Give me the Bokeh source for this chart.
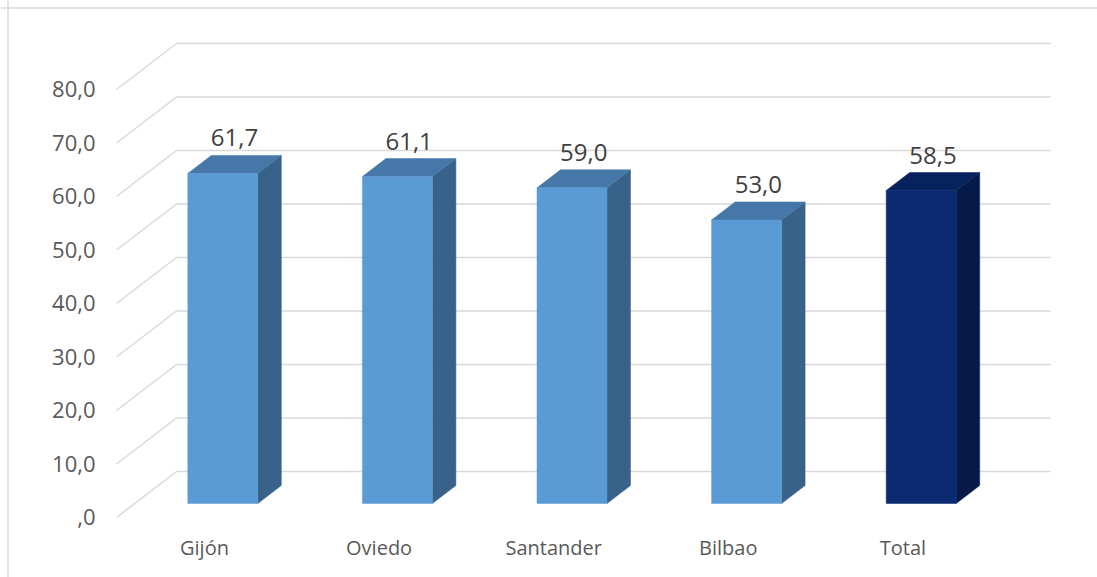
from bokeh.plotting import figure
from bokeh.models import Range1d, Span, ColumnDataSource
from bokeh.core.properties import value
from bokeh.embed import file_html
from bokeh.resources import INLINE

# ---- data -------------------------------------------------------------
categories = ["Gijón", "Oviedo", "Santander", "Bilbao", "Total"]
values = [61.7, 61.1, 59.0, 53.0, 58.5]
y_ticks = [0, 10, 20, 30, 40, 50, 60, 70, 80]
y_tick_labels = [",0", "10,0", "20,0", "30,0", "40,0", "50,0", "60,0", "70,0", "80,0"]
highlight = "Total"


def fmt(v):
    """Spanish decimal format used on the value labels."""
    return f"{v:.1f}".replace(".", ",")


# ---- layout (pixel geometry of the pseudo-3D box) ----------------------
W, H = 1097, 577
X0_PX, STEP_PX = 204.0, 174.6      # first category centre, spacing between categories
Y0_PX, UNIT_PX = 517.0, 5.35       # floor front edge, pixels per value unit


def dx(px):
    return px / STEP_PX


def dy(px):
    return px / UNIT_PX


WALL_LEFT = dx(116 - X0_PX)
WALL_RIGHT = dx(1050 - X0_PX)
WALL_DX, WALL_DY = dx(60), dy(46)          # depth of the floor / side wall
BAR_DX0, BAR_DY0 = dx(18.3), dy(14)        # bars stand a bit behind the floor edge
BAR_W = dx(70)
BAR_DX, BAR_DY = dx(23.5), dy(18)          # depth of each bar

GRID = "#D9D9D9"
FRONT = {"normal": "#5B9BD5", "hl": "#0B2A72"}
TOP = {"normal": "#4577A8", "hl": "#08225E"}
SIDE = {"normal": "#386289", "hl": "#051A48"}
FONT = value("Open Sans")

p = figure(
    width=W, height=H,
    x_range=Range1d(-X0_PX / STEP_PX, (W - X0_PX) / STEP_PX),
    y_range=Range1d((Y0_PX - H) / UNIT_PX, Y0_PX / UNIT_PX),
    output_backend="svg", toolbar_location=None,
    x_axis_location=None, y_axis_location=None,
    min_border=0,
)
p.grid.visible = False
p.outline_line_color = None
p.background_fill_color = "white"
p.border_fill_color = "white"

# chart-area border (top and left edges)
p.add_layout(Span(location=(Y0_PX - 7.5) / UNIT_PX, dimension="width",
                  line_color=GRID, line_width=1.5))
p.add_layout(Span(location=dx(7.5 - X0_PX), dimension="height",
                  line_color=GRID, line_width=1.5))

# gridlines: diagonal on the side wall, horizontal on the back wall
grid_xs = [[WALL_LEFT, WALL_LEFT + WALL_DX, WALL_RIGHT] for _ in y_ticks]
grid_ys = [[t, t + WALL_DY, t + WALL_DY] for t in y_ticks]
p.multi_line(grid_xs, grid_ys, line_color=GRID, line_width=1.5)

# y tick labels at the front end of each gridline
p.text(x=[WALL_LEFT] * len(y_ticks), y=y_ticks, text=y_tick_labels,
       text_font=FONT, text_font_size="22px", text_color="#595959",
       text_align="right", text_baseline="alphabetic",
       x_offset=-21, y_offset=-0.5)

# bars
front_src = dict(left=[], right=[], bottom=[], top=[], color=[])
side_xs, side_ys, side_c = [], [], []
top_xs, top_ys, top_c = [], [], []
lab_x, lab_y, lab_t = [], [], []
for i, (cat, v) in enumerate(zip(categories, values)):
    key = "hl" if cat == highlight else "normal"
    xl = i + BAR_DX0 - BAR_W / 2
    xr = xl + BAR_W
    y0 = BAR_DY0
    y1 = v + BAR_DY0
    front_src["left"].append(xl)
    front_src["right"].append(xr)
    front_src["bottom"].append(y0)
    front_src["top"].append(y1)
    front_src["color"].append(FRONT[key])
    side_xs.append([xr, xr + BAR_DX, xr + BAR_DX, xr])
    side_ys.append([y0, y0 + BAR_DY, y1 + BAR_DY, y1])
    side_c.append(SIDE[key])
    top_xs.append([xl, xl + BAR_DX, xr + BAR_DX, xr])
    top_ys.append([y1, y1 + BAR_DY, y1 + BAR_DY, y1])
    top_c.append(TOP[key])
    lab_x.append(i + BAR_DX0 + BAR_DX / 2)
    lab_y.append(y1 + BAR_DY)
    lab_t.append(fmt(v))

p.patches(side_xs, side_ys, fill_color=side_c, line_color=side_c, line_width=0.5)
p.patches(top_xs, top_ys, fill_color=top_c, line_color=top_c, line_width=0.5)
p.quad(source=ColumnDataSource(front_src), left="left", right="right",
       bottom="bottom", top="top", fill_color="color", line_color="color",
       line_width=0.5)

# value labels above each bar
p.text(x=lab_x, y=lab_y, text=lab_t, text_font=FONT, text_font_size="24px",
       text_color="#404040", text_align="center", text_baseline="alphabetic",
       y_offset=-17.5)

# category labels under the floor
p.text(x=list(range(len(categories))), y=[0] * len(categories), text=categories,
       text_font=FONT, text_font_size="20px", text_color="#595959",
       text_align="center", text_baseline="alphabetic", y_offset=29.5)

open("out.html", "w").write(file_html(p, INLINE))
